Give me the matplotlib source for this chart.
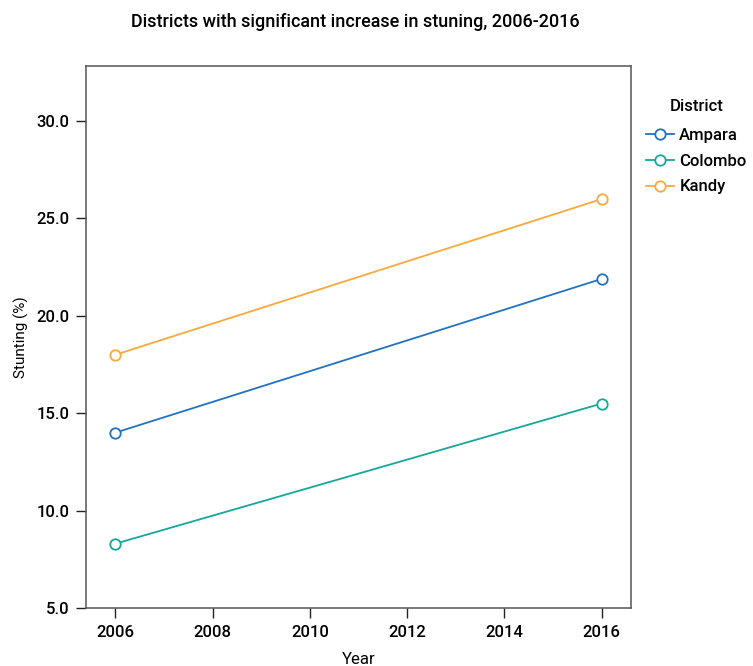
import matplotlib
matplotlib.use("Agg")
import matplotlib.pyplot as plt
from matplotlib.ticker import FormatStrFormatter

plt.rcParams['font.family'] = ['Roboto', 'DejaVu Sans']
plt.rcParams['font.weight'] = 500

years = [2006, 2016]
districts = ["Ampara", "Colombo", "Kandy"]
ampara = [14.0, 21.9]
colombo = [8.3, 15.5]
kandy = [18.0, 26.0]
colors = ["#2272c3", "#14a89a", "#f9a93a"]
xticks = [2006, 2008, 2010, 2012, 2014, 2016]
yticks = [5.0, 10.0, 15.0, 20.0, 25.0, 30.0]

fig = plt.figure(figsize=(7.53, 6.66), dpi=100)
ax = fig.add_axes([86 / 753, 1 - 608 / 666, 545 / 753, 542 / 666])

for name, vals, c in zip(districts, [ampara, colombo, kandy], colors):
    ax.plot(years, vals, color=c, lw=1.3, marker="o", ms=7.5,
            mfc="white", mec=c, mew=1.3, label=name)

ax.set_xlim(2005.4, 2016.6)
ax.set_ylim(5.0, 32.83)
ax.set_xticks(xticks)
ax.set_yticks(yticks)
ax.yaxis.set_major_formatter(FormatStrFormatter("%.1f"))
ax.tick_params(axis="both", length=7, width=1, color="#222222",
               labelsize=12, pad=5)
for s in ax.spines.values():
    s.set_color("#555555")
    s.set_linewidth(1.1)

ax.set_xlabel("Year", fontsize=12, labelpad=9)
ax.set_ylabel("Stunting (%)", fontsize=11, labelpad=5)
fig.text(355 / 753, 1 - 22 / 666, "Districts with significant increase in stuning, 2006-2016",
         ha="center", va="center", fontsize=13)

leg = ax.legend(title="District", loc="upper left", bbox_to_anchor=(1.0, 0.967),
                frameon=False, fontsize=12, title_fontsize=12,
                handlelength=1.7, handletextpad=0.3, labelspacing=0.65)
leg.get_title().set_fontweight(500)
# a little extra room between the legend title and its entries
leg._legend_box.sep = 10

fig.savefig("out.png", dpi=100)
